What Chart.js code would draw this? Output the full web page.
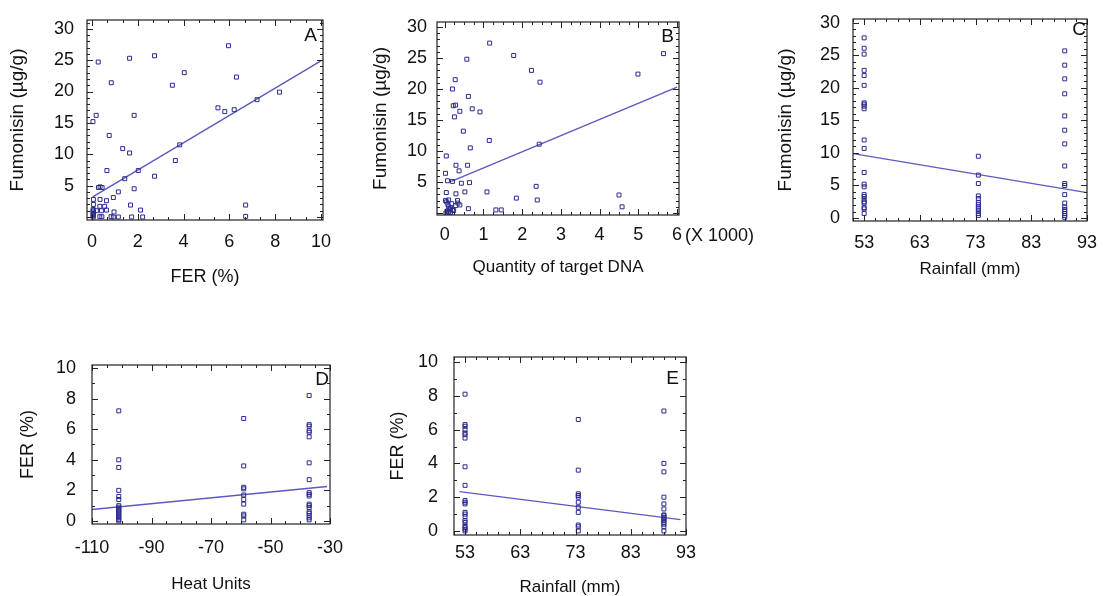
<!DOCTYPE html>
<html>
<head>
<meta charset="utf-8">
<script src="https://cdn.jsdelivr.net/npm/chart.js@4.4.1/dist/chart.umd.min.js"></script>
<style>
  body { margin: 0; background: #fff; width: 1103px; height: 596px; position: relative; overflow: hidden; }
  canvas { position: absolute; }
</style>
</head>
<body>
<canvas id="cA"></canvas>
<canvas id="cB"></canvas>
<canvas id="cC"></canvas>
<canvas id="cD"></canvas>
<canvas id="cE"></canvas>
<script>
// A: fumonisin vs FER
const ferA = [5.96,0.27,1.64,2.73,4.03,6.31,0.84,3.51,8.19,7.21,
  5.50,5.80,6.21,0.18,0.04,1.84,0.75,1.34,1.64,3.83,
  3.64,2.02,2.73,0.65,1.43,0.28,0.35,0.44,1.15,1.84,
  0.93,0.63,0.35,0.06,0.06,0.34,0.55,1.68,6.71,0.19,
  0.41,0.63,0.96,2.12,0.34,0.43,0.83,0.93,1.15,1.73,
  2.21,6.71,0.05,0.05,0.05,0.05,0.05,0.05,0.05];
const fumA = [27.3,24.7,25.3,25.7,23.0,22.3,21.4,21.0,19.9,18.7,
  17.4,16.8,17.1,16.2,15.2,16.2,13.0,10.9,10.2,11.5,
  9.0,7.4,6.5,7.4,6.1,4.7,4.8,4.7,4.0,4.5,
  3.1,2.6,2.8,2.8,2.0,1.7,1.7,1.9,1.9,1.0,
  1.0,1.1,0.8,1.1,0.05,0.05,0.05,0,0,0,
  0,0.1,0,0.2,0.4,0.6,0.8,1.0,1.2];
const fitAx = [0.03, 10.0];
const fitAy = [3.2, 24.9];

// B: fumonisin vs quantity of target DNA (x 1000)
const dnaB = [1.16,0.57,1.78,2.24,2.46,5.65,4.99,0.27,0.20,0.61,
  0.22,0.28,0.71,0.39,0.91,0.25,0.48,1.15,2.44,0.66,
  0.04,0.29,0.59,0.37,0.02,0.07,0.20,0.43,0.64,2.36,
  0.04,0.29,0.52,1.09,4.50,1.85,2.39,4.58,0.61,1.32,
  1.46,0.33,0.34,0.39,0.28,0.10,0.02,0.23,0.15,
  0.05,0.08,0.10,0.12,0.06,0.15,0.20,0.18,0.03,0.10];
const fumB = [27.4,24.8,25.4,23.0,21.1,25.7,22.4,21.5,20.0,18.8,
  17.3,17.4,16.8,16.4,16.3,15.5,13.2,11.7,11.1,10.5,
  9.2,7.7,7.7,6.8,6.4,5.2,5.1,4.8,4.9,4.3,
  3.3,3.1,3.4,3.4,2.9,2.4,2.1,1.0,0.7,0.5,
  0.5,2.0,1.6,1.3,1.2,2.1,2.0,0.4,0.1,
  1.8,1.4,1.0,0.6,0.3,0.8,0.5,1.5,0.0,0.2];
const fitBx = [0.17, 6.0];
const fitBy = [5.1, 20.3];

// C: fumonisin vs rainfall
const rainfall = [53, 73.5, 89];
const fumC53 = [27.7,26.1,25.2,22.7,21.9,20.4,17.7,17.5,17.2,16.8,12.0,10.7,7.0,5.2,4.8,3.6,3.3,2.9,2.5,2.3,1.6,1.4,0.7];
const fumC73 = [9.5,6.6,5.3,3.4,3.0,2.4,2.1,1.7,1.4,1.1,0.7,0.4];
const fumC89 = [25.7,23.5,21.4,19.1,15.7,13.5,11.4,8.0,5.3,5.0,3.6,2.3,1.7,1.3,1.0,0.7,0.4,0.1];
const fitCx = [51, 93];
const fitCy = [9.9, 3.9];

// D: FER vs heat units
const heatUnits = [-101, -59, -37];
const ferD1 = [7.2,4.0,3.5,2.0,1.6,1.4,1.0,0.9,0.8,0.7,0.6,0.5,0.4,0.3,0.2,0.1,0];
const ferD2 = [6.7,3.6,2.2,2.1,1.7,1.4,1.1,0.44,0.33,0.07];
const ferD3 = [8.2,6.3,6.2,5.9,5.8,5.5,3.8,2.7,1.85,1.74,1.63,1.1,1.0,0.87,0.6,0.5,0.35,0.2,0.07];
const fitDx = [-110, -31];
const fitDy = [0.75, 2.25];

// E: FER vs rainfall
const ferE53 = [8.1,6.3,6.2,6.0,5.8,5.7,5.5,3.8,2.7,1.8,1.7,1.6,1.1,1.0,0.85,0.6,0.5,0.3,0.2,0.1,0];
const ferE73 = [6.6,3.6,2.2,2.1,2.0,1.7,1.4,1.1,0.35,0.25,0];
const ferE89 = [7.1,4.0,3.5,2.0,1.6,1.3,0.95,0.9,0.8,0.7,0.6,0.5,0.4,0.25,0];
const fitEx = [52, 92];
const fitEy = [2.33, 0.67];

const FONT = "'Liberation Sans', Arial, sans-serif";
const MARK = '#2b2b8c';
const LINE = '#5a5abf';
const INK = '#111';

const pairs = (xs, ys) => xs.map((x, i) => ({ x: x, y: ys[i] }));
const column = (x, ys) => ys.map(y => ({ x: x, y: y }));

// box with inward ticks on all four sides, plus the panel letter
const frame = {
  id: 'frame',
  afterDraw(chart, args, o) {
    const { ctx, chartArea: a, scales: { x, y } } = chart;
    ctx.save();
    ctx.strokeStyle = '#222';
    ctx.lineWidth = 1.2;
    ctx.strokeRect(a.left, a.top, a.right - a.left, a.bottom - a.top);
    ctx.lineWidth = 1;
    ctx.beginPath();
    const steps = (majors, step, min, max) => {
      const out = [];
      let v = majors[0] - Math.floor((majors[0] - min) / step + 1e-6) * step;
      for (; v <= max + 1e-6; v += step) out.push(v);
      return out;
    };
    const xTick = (v, len) => {
      const px = Math.round(x.getPixelForValue(v)) + 0.5;
      ctx.moveTo(px, a.bottom); ctx.lineTo(px, a.bottom - len);
      ctx.moveTo(px, a.top); ctx.lineTo(px, a.top + len);
    };
    const yTick = (v, len) => {
      const py = Math.round(y.getPixelForValue(v)) + 0.5;
      ctx.moveTo(a.left, py); ctx.lineTo(a.left + len, py);
      ctx.moveTo(a.right, py); ctx.lineTo(a.right - len, py);
    };
    steps(o.xMajor, o.xMinor, x.min, x.max).forEach(v => xTick(v, 3));
    steps(o.yMajor, o.yMinor, y.min, y.max).forEach(v => yTick(v, 3));
    o.xMajor.forEach(v => xTick(v, 6));
    o.yMajor.forEach(v => yTick(v, 6));
    ctx.stroke();
    ctx.fillStyle = INK;
    ctx.font = '19px ' + FONT;
    ctx.textAlign = 'right';
    ctx.textBaseline = 'middle';
    ctx.fillText(o.letter, a.right - o.letterDx, a.top + o.letterDy);
    if (o.note) {
      ctx.font = '18px ' + FONT;
      ctx.textAlign = 'left';
      ctx.fillText(o.note, a.right + 6, a.bottom + 21);
    }
    ctx.restore();
  }
};

function panel(id, p) {
  const cv = document.getElementById(id);
  cv.width = p.w; cv.height = p.h;
  cv.style.left = p.left + 'px'; cv.style.top = p.top + 'px';
  const axis = (a, hideZero) => ({
    type: 'linear', min: a.min, max: a.max,
    afterBuildTicks: s => { s.ticks = a.ticks.map(v => ({ value: v })); },
    grid: { display: false, drawTicks: false },
    border: { display: false },
    ticks: {
      autoSkip: false, maxRotation: 0, padding: a.pad, color: INK,
      font: { family: FONT, size: a.size || 18 },
      callback: v => (hideZero && v === 0) ? '' : String(v)
    },
    title: {
      display: true, text: a.title, color: INK,
      font: { family: FONT, size: a.titleSize, lineHeight: 1 },
      padding: { top: a.titlePad, bottom: a.titlePad }
    }
  });
  // fixed axis sizes, and no extra room for labels that overhang the box
  const xs = axis(p.x, false);
  xs.afterFit = s => { s.height = p.xH; s.paddingLeft = 0; s.paddingRight = 0; };
  const ys = axis(p.y, p.hideZero);
  ys.afterFit = s => { s.width = p.yW; s.paddingTop = 0; s.paddingBottom = 0; };
  return new Chart(cv, {
    type: 'scatter',
    data: {
      datasets: [
        { data: p.points, pointStyle: 'rect', pointRadius: 2.8, pointBorderWidth: 1,
          borderColor: MARK, backgroundColor: 'rgba(255,255,255,0)', showLine: false },
        { type: 'line', data: p.fit, showLine: true, borderColor: LINE, borderWidth: 1.4,
          pointRadius: 0, fill: false }
      ]
    },
    options: {
      responsive: false, animation: false,
      layout: { padding: { top: p.padTop, right: p.padRight, left: 0, bottom: 0 } },
      plugins: {
        legend: { display: false }, tooltip: { enabled: false },
        frame: { letter: p.letter, letterDx: p.letterDx, letterDy: p.letterDy, note: p.note,
                 xMajor: p.x.ticks, xMinor: p.x.minor, yMajor: p.y.ticks, yMinor: p.y.minor }
      },
      scales: { x: xs, y: ys }
    },
    plugins: [frame]
  });
}

const fumTicks = [0, 5, 10, 15, 20, 25, 30];
const ferTicks = [0, 2, 4, 6, 8, 10];
const rainTicks = [53, 63, 73, 83, 93];

panel('cA', {
  left: 0, top: 0, w: 345, h: 300, yW: 87, xH: 80, padTop: 20, padRight: 22,
  hideZero: true, letter: 'A', letterDx: 6, letterDy: 16,
  points: pairs(ferA, fumA), fit: pairs(fitAx, fitAy),
  x: { min: -0.22, max: 10.09, ticks: [0, 2, 4, 6, 8, 10], minor: 2 / 3, pad: 11,
       title: 'FER (%)', titleSize: 18, titlePad: 14 },
  y: { min: -0.48, max: 31.4, ticks: fumTicks, minor: 1, pad: 13,
       title: 'Fumonisin (µg/g)', titleSize: 19, titlePad: 8 }
});

panel('cB', {
  left: 355, top: 0, w: 420, h: 300, yW: 82, xH: 85, padTop: 22, padRight: 96,
  hideZero: true, letter: 'B', letterDx: 5, letterDy: 15, note: '(X 1000)',
  points: pairs(dnaB, fumB), fit: pairs(fitBx, fitBy),
  x: { min: -0.2, max: 6.05, ticks: [0, 1, 2, 3, 4, 5, 6], minor: 0.25, pad: 9,
       title: 'Quantity of target DNA', titleSize: 17, titlePad: 24 },
  y: { min: -0.32, max: 30.8, ticks: fumTicks, minor: 1, pad: 10,
       title: 'Fumonisin (µg/g)', titleSize: 19, titlePad: 16 }
});

panel('cC', {
  left: 760, top: 0, w: 343, h: 300, yW: 93, xH: 79, padTop: 19, padRight: 16,
  hideZero: false, letter: 'C', letterDx: 1, letterDy: 11,
  points: [...column(rainfall[0], fumC53), ...column(rainfall[1], fumC73), ...column(rainfall[2], fumC89)],
  fit: pairs(fitCx, fitCy),
  x: { min: 51, max: 93, ticks: rainTicks, minor: 2, pad: 11,
       title: 'Rainfall (mm)', titleSize: 17, titlePad: 22 },
  y: { min: -0.46, max: 30.6, ticks: fumTicks, minor: 1, pad: 13,
       title: 'Fumonisin (µg/g)', titleSize: 19, titlePad: 16 }
});

panel('cD', {
  left: 0, top: 340, w: 345, h: 256, yW: 92, xH: 72, padTop: 25, padRight: 15,
  hideZero: false, letter: 'D', letterDx: 1, letterDy: 15,
  points: [...column(heatUnits[0], ferD1), ...column(heatUnits[1], ferD2), ...column(heatUnits[2], ferD3)],
  fit: pairs(fitDx, fitDy),
  x: { min: -110, max: -30, ticks: [-110, -90, -70, -50, -30], minor: 5, pad: 13,
       title: 'Heat Units', titleSize: 17, titlePad: 3 },
  y: { min: -0.2, max: 10.2, ticks: ferTicks, minor: 1, pad: 16,
       title: 'FER (%)', titleSize: 18, titlePad: 19 }
});

panel('cE', {
  left: 375, top: 330, w: 340, h: 266, yW: 79, xH: 61, padTop: 27, padRight: 29,
  hideZero: false, letter: 'E', letterDx: 7, letterDy: 22,
  points: [...column(rainfall[0], ferE53), ...column(rainfall[1], ferE73), ...column(rainfall[2], ferE89)],
  fit: pairs(fitEx, fitEy),
  x: { min: 51, max: 93, ticks: rainTicks, minor: 2, pad: 7,
       title: 'Rainfall (mm)', titleSize: 17, titlePad: 0 },
  y: { min: -0.24, max: 10.3, ticks: ferTicks, minor: 1, pad: 16,
       title: 'FER (%)', titleSize: 18, titlePad: 14 }
});
</script>
</body>
</html>
